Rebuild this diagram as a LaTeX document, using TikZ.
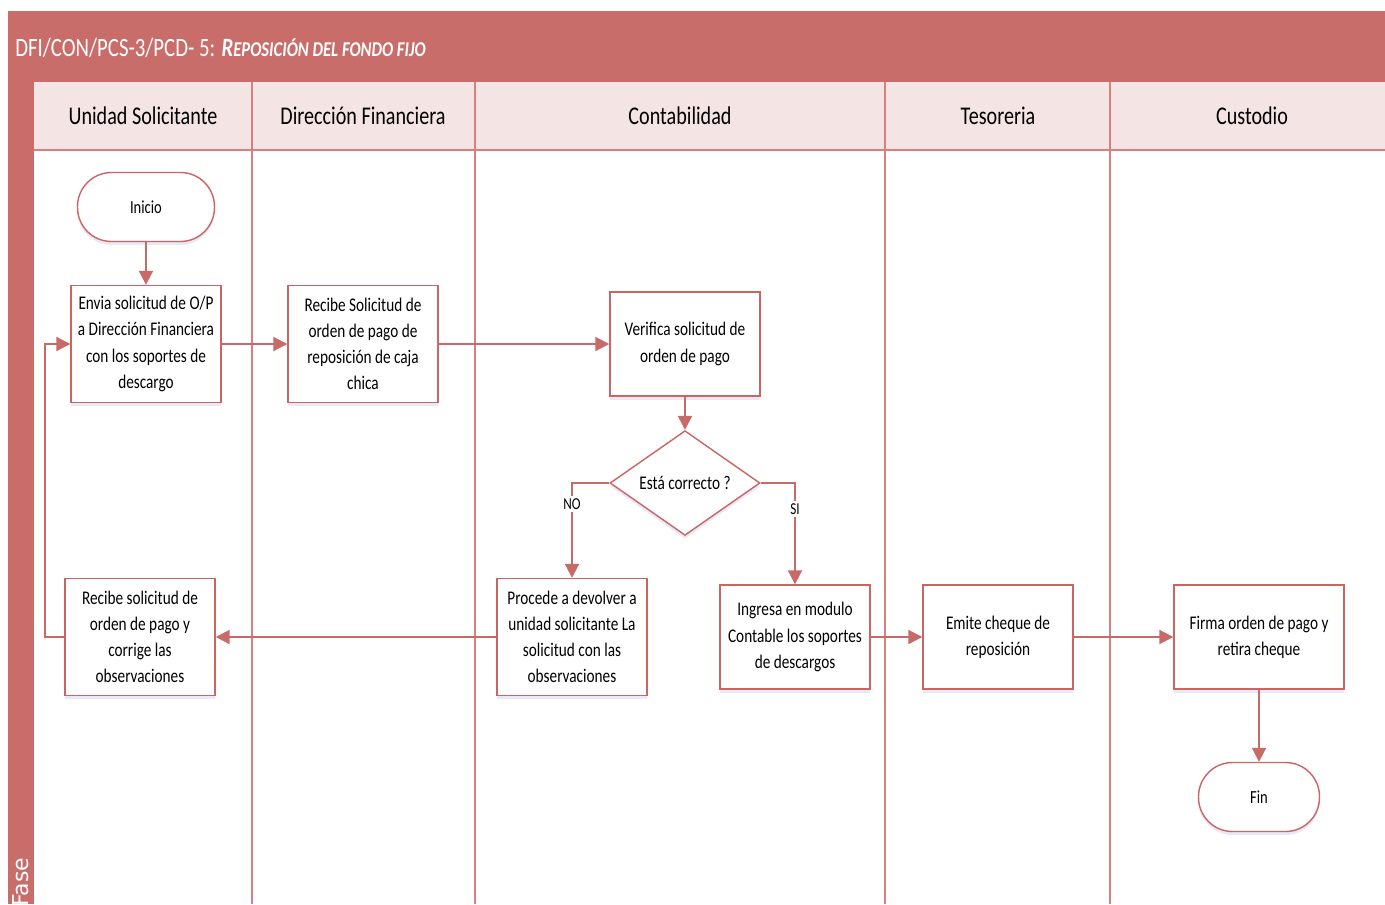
\documentclass[tikz,border=0pt]{standalone}
\usepackage{fontspec}
\setmainfont{Carlito}[FakeStretch=0.79]
\newfontfamily\fasefont{DejaVu Sans}
\usetikzlibrary{arrows.meta,shapes.geometric,shadows}

\definecolor{titlered}{RGB}{200,109,106}
\definecolor{headpink}{RGB}{245,228,228}
\definecolor{laneline}{RGB}{216,128,128}
\definecolor{boxline}{RGB}{204,100,98}
\definecolor{flowred}{RGB}{200,106,104}

\tikzset{
  shade/.style={drop shadow={shadow xshift=0pt,shadow yshift=-2pt,opacity=0.12,fill=blue!50!gray}},
  box/.style={draw=boxline,line width=0.8pt,fill=white,shade,align=center,
    minimum width=3cm,minimum height=2.34cm,inner sep=2pt,
    font=\fontsize{11}{14.9}\selectfont},
  boxs/.style={box,minimum height=2.08cm},
  terminal/.style={draw=boxline,line width=0.8pt,fill=white,shade,rectangle,
    rounded corners=0.68cm,minimum height=1.38cm,font=\fontsize{10.5}{12}\selectfont},
  decision/.style={draw=boxline,line width=0.8pt,fill=white,shade,diamond,inner sep=0pt,
    minimum width=3cm,minimum height=2.06cm,font=\fontsize{11}{13}\selectfont},
  flow/.style={draw=flowred,line width=1.1pt,-{Triangle[length=8pt,width=8pt]}},
  lanehead/.style={font=\fontsize{14.5}{16}\selectfont},
  tag/.style={fill=white,inner sep=1.5pt,font=\fontsize{9.5}{11}\selectfont}
}

\begin{document}
\begin{tikzpicture}[x=0.02cm,y=-0.02cm]
  \useasboundingbox (0,0) rectangle (1385,904);

  % frame
  \fill[titlered] (8,11) rectangle (1385,82);
  \fill[titlered] (8,82) rectangle (34,904);
  \fill[headpink] (34,82) rectangle (1385,150);
  \draw[laneline,line width=0.9pt] (34,150) -- (1385,150);
  \foreach \lx in {252,475,885,1110}
    \draw[laneline,line width=0.9pt] (\lx,82) -- (\lx,904);

  \node[anchor=west,text=white,inner sep=0pt,font=\fontsize{15}{17}\selectfont] (title) at (15,48)
    {DFI/CON/PCS-3/PCD- 5: \textbf{\textit{R\fontsize{12}{14}\selectfont EPOSICIÓN DEL FONDO FIJO}}};
  \node[anchor=west,rotate=90,text=white,inner sep=0pt,font=\fasefont\fontsize{12.5}{14}\selectfont] (fase) at (21,907) {Fase};

  % lane headers
  \node[lanehead] (h1) at (143,116) {Unidad Solicitante};
  \node[lanehead] (h2) at (363,116) {Dirección Financiera};
  \node[lanehead] (h3) at (680,116) {Contabilidad};
  \node[lanehead] (h4) at (998,116) {Tesoreria};
  \node[lanehead] (h5) at (1252,116) {Custodio};

  % steps
  \node[terminal,minimum width=2.74cm] (inicio) at (146,207) {Inicio};
  \node[box] (envia) at (146,344) {Envia solicitud de O/P\\a Dirección Financiera\\con los soportes de\\descargo};
  \node[box] (recibe) at (363,344) {Recibe Solicitud de\\orden de pago de\\reposición de caja\\chica};
  \node[boxs] (verifica) at (685,344) {Verifica solicitud de\\orden de pago};
  \node[decision] (correcto) at (685,483) {Está correcto ?};
  \node[box] (procede) at (572,637) {Procede a devolver a\\unidad solicitante La\\solicitud con las\\observaciones};
  \node[boxs] (ingresa) at (795,637) {Ingresa en modulo\\Contable los soportes\\de descargos};
  \node[box] (corrige) at (140,637) {Recibe solicitud de\\orden de pago y\\corrige las\\observaciones};
  \node[boxs] (emite) at (998,637) {Emite cheque de\\reposición};
  \node[boxs,minimum width=3.4cm] (firma) at (1259,637) {Firma orden de pago y\\retira cheque};
  \node[terminal,minimum width=2.42cm] (fin) at (1259,797) {Fin};

  % connectors
  \draw[flow] (inicio) -- (envia);
  \draw[flow] (envia) -- (recibe);
  \draw[flow] (recibe) -- (verifica);
  \draw[flow] (verifica) -- (correcto);
  \draw[flow] (correcto.west) -| (procede.north) node[tag,pos=0.61] {NO};
  \draw[flow] (correcto.east) -| (ingresa.north) node[tag,pos=0.63] {SI};
  \draw[flow] (procede) -- (corrige);
  \draw[flow] (corrige.west) -- ++(-19,0) |- (envia.west);
  \draw[flow] (ingresa) -- (emite);
  \draw[flow] (emite) -- (firma);
  \draw[flow] (firma) -- (fin);
\end{tikzpicture}
\end{document}
